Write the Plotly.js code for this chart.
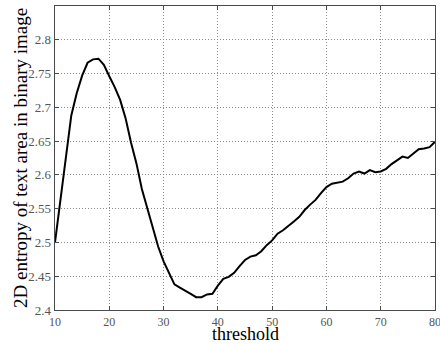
<!DOCTYPE html>
<html>
<head>
<meta charset="utf-8">
<script src="https://cdn.plot.ly/plotly-3.0.1.min.js"></script>
<style>html,body{margin:0;padding:0;background:#fff;}#chart{width:440px;height:344px;}</style>
</head>
<body>
<div id="chart"></div>
<script>
var threshold = [10,11,12,13,14,15,16,17,18,19,20,21,22,23,24,25,26,27,28,29,30,31,32,33,34,35,36,37,38,39,40,41,42,43,44,45,46,47,48,49,50,51,52,53,54,55,56,57,58,59,60,61,62,63,64,65,66,67,68,69,70,71,72,73,74,75,76,77,78,79,80];
var entropy = [2.500,2.565,2.632,2.688,2.721,2.747,2.766,2.771,2.772,2.763,2.746,2.730,2.711,2.684,2.648,2.617,2.579,2.551,2.523,2.494,2.472,2.455,2.438,2.433,2.429,2.424,2.419,2.419,2.423,2.424,2.436,2.446,2.449,2.455,2.465,2.474,2.479,2.481,2.487,2.496,2.503,2.513,2.518,2.524,2.531,2.538,2.548,2.556,2.563,2.573,2.582,2.587,2.588,2.590,2.595,2.602,2.605,2.602,2.607,2.604,2.605,2.609,2.616,2.622,2.627,2.625,2.631,2.638,2.639,2.641,2.649];
var xTicks = [10,20,30,40,50,60,70,80];
var yTicks = [2.4,2.45,2.5,2.55,2.6,2.65,2.7,2.75,2.8];
var yTickText = ['2.4','2.45','2.5','2.55','2.6','2.65','2.7','2.75','2.8'];
var xTitle = 'threshold';
var yTitle = '2D entropy of text area in binary image';

var serif = '"Liberation Serif", "Times New Roman", serif';
var axisCommon = {
  showline: true, linecolor: '#4a4a4a', linewidth: 1.3, mirror: 'ticks',
  ticks: 'inside', ticklen: 4, tickcolor: '#4a4a4a', tickwidth: 1,
  showgrid: true, gridcolor: '#8c8c8c', gridwidth: 1, griddash: '1px,2px',
  zeroline: false, tickfont: {family: serif, size: 13, color: '#555'},
  ticklabeloverflow: 'allow'
};
var layout = {
  width: 440, height: 344,
  margin: {l: 55, r: 5, t: 6, b: 34},
  paper_bgcolor: '#fff', plot_bgcolor: '#fff',
  showlegend: false,
  xaxis: Object.assign({}, axisCommon, {
    range: [10, 80], tickvals: xTicks,
    tickfont: {family: serif, size: 12, color: '#555'}
  }),
  yaxis: Object.assign({}, axisCommon, {
    range: [2.4, 2.85], tickvals: yTicks, ticktext: yTickText
  }),
  annotations: [{
    text: yTitle, textangle: -90, showarrow: false,
    xref: 'paper', yref: 'paper', x: 0, y: 0.5, xanchor: 'center', yanchor: 'middle',
    xshift: -35, font: {family: serif, size: 19, color: '#000'}
  }, {
    text: xTitle, showarrow: false,
    xref: 'paper', yref: 'paper', x: 0.5, y: 0, xanchor: 'center', yanchor: 'middle',
    yshift: -24, font: {family: serif, size: 18, color: '#000'}
  }]
};
var trace = {
  x: threshold, y: entropy, type: 'scatter', mode: 'lines',
  line: {color: '#000', width: 2}
};
Plotly.newPlot('chart', [trace], layout, {displayModeBar: false, staticPlot: true});
</script>
</body>
</html>
